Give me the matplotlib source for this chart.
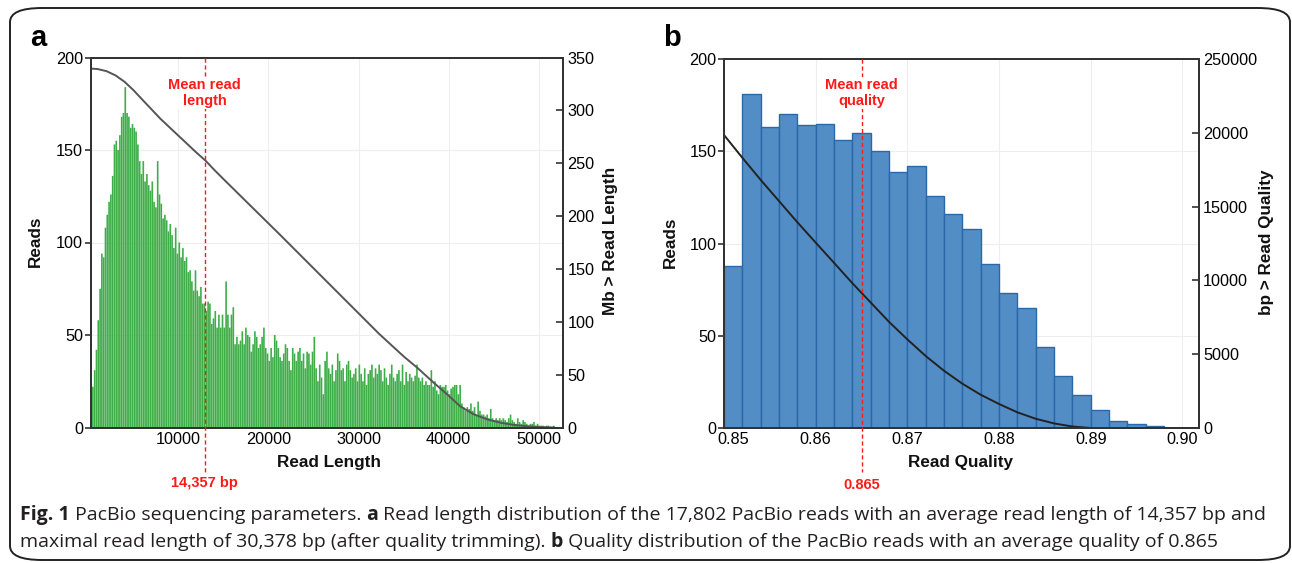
import numpy as np
import matplotlib
matplotlib.use("Agg")
import matplotlib.pyplot as plt
import matplotlib.transforms as mtransforms
from matplotlib.patches import FancyBboxPatch

plt.rcParams['font.family'] = ['Liberation Sans', 'DejaVu Sans']

W, H = 1292, 563

# ---- panel a: read length histogram (200 bp bins, from 0) ----
length_bin_width = 200
length_counts = [
    15, 19, 22, 31, 42, 58, 75, 94, 92, 108,
    115, 122, 126, 136, 153, 155, 150, 158, 168, 170,
    184, 170, 168, 162, 164, 162, 160, 153, 144, 137,
    144, 133, 137, 131, 128, 133, 122, 119, 144, 126,
    121, 113, 115, 112, 106, 110, 104, 97, 108, 94,
    100, 92, 97, 90, 92, 84, 85, 79, 74, 85,
    74, 71, 76, 67, 67, 63, 68, 67, 56, 59,
    63, 54, 61, 54, 61, 54, 79, 61, 54, 61,
    65, 45, 49, 45, 47, 52, 45, 54, 50,
    49, 41, 45, 52, 49, 43, 45, 49, 54, 43,
    40, 36, 43, 38, 50, 47, 43, 38, 36, 40,
    45, 43, 36, 31, 43, 40, 36, 41, 43, 36,
    40, 32, 41, 40, 34, 41, 49, 32, 25, 34,
    27, 18, 36, 41, 32, 29, 34, 25, 31, 40,
    36, 31, 32, 25, 34, 36, 31, 27, 29, 32,
    25, 34, 29, 25, 32, 23, 29, 31, 34, 27,
    32, 29, 34, 31, 25, 32, 27, 23, 29, 34,
    27, 25, 29, 31, 25, 34, 23,
    30, 25, 29, 27, 25, 28, 34, 27, 25, 27,
    23, 25, 23, 23, 31, 22, 25, 20, 18, 23,
    22, 22, 23, 20, 18, 21, 22, 23, 23, 18,
    23, 13, 11, 9, 11, 10, 13, 9, 11, 7,
    14, 9, 7, 7, 6, 7, 5, 10, 5, 4,
    5, 4, 5, 4, 5, 4, 3, 5, 7, 4,
    3, 2, 5, 3, 2, 4, 3, 2, 1, 2,
    2, 3, 1, 2, 1, 1, 1, 0, 1, 1,
    0, 0, 1, 0, 0, 0,
]
# cumulative yield curve (Mb of reads longer than x)
length_curve_bp = [240, 1000, 2000, 3000, 4000, 5000, 6000, 7000, 8000, 9000,
                   10000, 11000, 12000, 13000, 14000, 15000, 17500, 21200, 24900,
                   28600, 32300, 35050, 36600, 38400, 39900, 41300, 42800, 44300,
                   45800, 47200, 48700, 50200, 51700]
length_curve_mb = [339.5, 339.1, 337.1, 333.1, 327.1, 319.1, 310, 301, 292, 284,
                   276, 268, 260, 252.5, 243.5, 235, 214, 183, 151.5,
                   120, 88.5, 67, 56, 42, 31, 20, 12.5, 7.7,
                   4.5, 2.5, 1.2, 0.4, 0]
length_mean_pos = 12900
length_mean_label = "14,357 bp"
length_xticks = [10000, 20000, 30000, 40000, 50000]

# ---- panel b: read quality histogram ----
quality_bin_start = 0.85
quality_bin_width = 0.002
quality_counts = [88, 181, 163, 170, 164, 165, 156, 160, 150, 139, 142, 126,
                  116, 108, 89, 73, 65, 44, 28, 18, 10, 4, 2, 1]
quality_curve_x = [0.850, 0.852, 0.854, 0.856, 0.858, 0.860, 0.862, 0.864,
                   0.866, 0.868, 0.870, 0.872, 0.874, 0.876, 0.878, 0.880,
                   0.882, 0.884, 0.886, 0.888, 0.890, 0.902]
quality_curve_bp = [19850, 18310, 16810, 15375, 13940, 12560, 11190, 9810,
                    8500, 7190, 6000, 4875, 3875, 3000, 2250, 1625,
                    1060, 625, 310, 100, 0, 0]
quality_mean_pos = 0.865
quality_mean_label = "0.865"
quality_xticks = [0.85, 0.86, 0.87, 0.88, 0.89, 0.90]
quality_xlabels = ["0.85", "0.86", "0.87", "0.88", "0.89", "0.90"]
quality_right_ticks = [0, 5000, 10000, 15000, 20000, 25000]
quality_right_labels = ["0", "5000", "10000", "15000", "20000", "250000"]

caption_line1 = [
    ("Fig. 1", True),
    (" PacBio sequencing parameters. ", False),
    ("a", True),
    (" Read length distribution of the 17,802 PacBio reads with an average read length of 14,357 bp and", False),
]
caption_line2 = [
    ("maximal read length of 30,378 bp (after quality trimming). ", False),
    ("b", True),
    (" Quality distribution of the PacBio reads with an average quality of 0.865", False),
]

RED = '#ff1a1a'
SPINE = '#333333'
TICK_SIZE = 11.7
LABEL_SIZE = 12.3


def fx(x):
    return x / W


def fy(y):
    return 1 - y / H


fig = plt.figure(figsize=(W / 100, H / 100), dpi=100)

# outer rounded frame
frame = FancyBboxPatch((fx(10), fy(560)), fx(1290) - fx(10), fy(8) - fy(560),
                       boxstyle="round,pad=0,rounding_size=0.025",
                       transform=fig.transFigure, fill=False,
                       edgecolor='#222222', linewidth=1.4)
fig.patches.append(frame)


def style_axes(ax, axr):
    for a in (ax, axr):
        for sp in a.spines.values():
            sp.set_color(SPINE)
            sp.set_linewidth(1.4)
    ax.grid(True, color='#eeeeee', linewidth=0.8)
    ax.set_axisbelow(True)
    ax.tick_params(axis='y', direction='out', length=4, width=1.2, color=SPINE,
                   labelsize=TICK_SIZE, pad=1.5)
    ax.tick_params(axis='x', length=0, labelsize=TICK_SIZE, pad=3)
    axr.tick_params(axis='y', direction='in', length=5, width=1.2, color=SPINE,
                    labelsize=TICK_SIZE, pad=3)


def mean_marker(ax, axr, pos, label, top_text, y_text, y_label):
    tr = mtransforms.blended_transform_factory(ax.transData, ax.transAxes)
    axr.plot([pos, pos], [1, -0.12], transform=tr, color=RED, lw=1,
             dashes=(3, 2), clip_on=False, zorder=5)
    axr.text(pos, y_text, top_text, transform=tr, ha='center', va='center',
             color=RED, fontsize=10.5, fontweight='bold', linespacing=1.15,
             zorder=6, bbox=dict(facecolor='white', edgecolor='none', pad=1))
    axr.text(pos, y_label, label, transform=tr, ha='center', va='center',
             color=RED, fontsize=10.5, fontweight='bold', clip_on=False)


# ---- panel a ----
a_l, a_r, a_t, a_b = 90.7, 563.3, 57.5, 427.5
ax1 = fig.add_axes([fx(a_l), fy(a_b), (a_r - a_l) / W, (a_b - a_t) / H])
ax1r = ax1.twinx()
edges = np.arange(len(length_counts)) * length_bin_width
bars = ax1.bar(edges, length_counts, width=length_bin_width * 0.92, align='edge',
               color='#3fae49', linewidth=0)
for b in bars:
    b.set_snap(False)
ax1r.plot(length_curve_bp, length_curve_mb, color='#555555', lw=1.4)
ax1.set_xlim(250, 52750)
ax1.set_ylim(0, 200)
ax1r.set_ylim(0, 350)
ax1.set_xticks(length_xticks)
ax1.set_xticklabels([str(t) for t in length_xticks])
ax1.set_yticks([0, 50, 100, 150, 200])
ax1r.set_yticks([0, 50, 100, 150, 200, 250, 300, 350])
style_axes(ax1, ax1r)
mean_marker(ax1, ax1r, length_mean_pos, length_mean_label, "Mean read\nlength",
            (a_b - 93) / (a_b - a_t), (a_b - 483) / (a_b - a_t))

# ---- panel b ----
b_l, b_r, b_t, b_b = 724, 1199, 59, 428
ax2 = fig.add_axes([fx(b_l), fy(b_b), (b_r - b_l) / W, (b_b - b_t) / H])
ax2r = ax2.twinx()
q_edges = quality_bin_start + np.arange(len(quality_counts)) * quality_bin_width
ax2.bar(q_edges, quality_counts, width=quality_bin_width, align='edge',
        color='#538dc6', edgecolor='#2a68aa', linewidth=1.0)
ax2r.plot(quality_curve_x, quality_curve_bp, color='#222222', lw=1.4)
ax2.set_xlim(0.85, 0.9018)
ax2.set_ylim(0, 200)
ax2r.set_ylim(0, 25000)
ax2.set_xticks(quality_xticks)
ax2.set_xticklabels(quality_xlabels)
ax2.set_yticks([0, 50, 100, 150, 200])
ax2r.set_yticks(quality_right_ticks)
ax2r.set_yticklabels(quality_right_labels)
style_axes(ax2, ax2r)
# first quality label sits a little to the right, clear of the "0"
first = ax2.get_xticklabels()[0]
first.set_transform(first.get_transform() +
                    mtransforms.ScaledTranslation(9 / 100, 0, fig.dpi_scale_trans))
mean_marker(ax2, ax2r, quality_mean_pos, quality_mean_label, "Mean read\nquality",
            (b_b - 93) / (b_b - b_t), (b_b - 485) / (b_b - b_t))

# ---- axis labels and panel letters ----
lab = dict(fontsize=LABEL_SIZE, fontweight='bold', color='#111111',
           ha='center', va='center')
fig.text(fx(35), fy(241), "Reads", rotation=90, **lab)
fig.text(fx(610), fy(241), "Mb > Read Length", rotation=90, **lab)
fig.text(fx(329), fy(462), "Read Length", **lab)
fig.text(fx(670), fy(242), "Reads", rotation=90, **lab)
fig.text(fx(1266), fy(242), "bp > Read Quality", rotation=90, **lab)
fig.text(fx(960), fy(463), "Read Quality", **lab)
fig.text(fx(38), fy(38), "a", fontsize=21, fontweight='bold', ha='center', va='center')
fig.text(fx(672), fy(38), "b", fontsize=21, fontweight='bold', ha='center', va='center')

# ---- caption with bold runs ----
cap_font = ['Open Sans', 'DejaVu Sans']
cap_size = 14
renderer = fig.canvas.get_renderer()


def draw_runs(x, y, runs):
    for s, bold in runs:
        t = fig.text(fx(x), fy(y), s, fontsize=cap_size, family=cap_font,
                     fontweight='bold' if bold else 'normal', color='#231f20',
                     ha='left', va='baseline')
        x += t.get_window_extent(renderer=renderer).width


draw_runs(20, 520, caption_line1)
draw_runs(20, 547, caption_line2)

fig.savefig("out.png", dpi=100)
